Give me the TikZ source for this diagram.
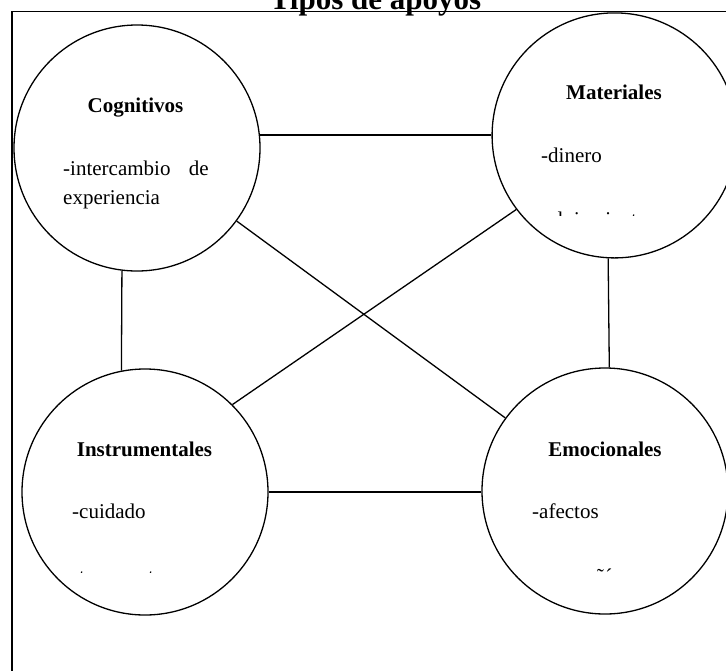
\documentclass[tikz,border=0pt]{standalone}
\usepackage{fontspec}
\setmainfont{Liberation Serif}
\tikzset{
  bubble/.style={draw, circle, line width=1.3pt, minimum size=246pt, inner sep=0pt},
  link/.style={line width=1.3pt},
  head/.style={font=\fontsize{21}{25}\selectfont\bfseries, inner sep=0pt, anchor=base},
  body/.style={font=\fontsize{21}{25}\selectfont, inner sep=0pt, anchor=base west},
}
\begin{document}
\begin{tikzpicture}[x=1pt,y=-1pt]
\useasboundingbox (0,0) rectangle (726,670);
\clip (0,0) rectangle (726,670);
\fill[white] (0,0) rectangle (726,670);
\draw[line width=1.3pt] (12,11.7) rectangle (760,700);
\node[font=\fontsize{31}{36}\selectfont\bfseries, anchor=base, inner sep=0pt] (title) at (375.5,9.5) {Tipos de apoyos};

\node[bubble] (C) at (137,148) {};
\node[bubble, minimum size=245pt] (M) at (614.6,135.4) {};
\node[bubble] (I) at (145,492) {};
\node[bubble] (E) at (605,491) {};

\node[head] (Ct) at (135.5,112) {Cognitivos};
\node[body] (C1) at (63,175.7) {-intercambio};
\node[body, anchor=base east] (C2) at (209,175.7) {de};
\node[body] (C3) at (63,204) {experiencia};

\node[head] (Mt) at (614,99.3) {Materiales};
\node[body] (M1) at (541,162.7) {-dinero};
\begin{scope}
  \clip (480,190) rectangle (720,215.8);
  \node[body] (M2) at (541,226.4) {-alojamiento};
\end{scope}

\node[head] (It) at (144.5,456) {Instrumentales};
\node[body] (I1) at (72,518.3) {-cuidado};
\begin{scope}
  \clip (20,550) rectangle (270,572.5);
  \node[body] (I2) at (72,583.2) {-transporte};
\end{scope}

\node[head] (Et) at (605,456) {Emocionales};
\node[body] (E1) at (532,518.3) {-afectos};
\begin{scope}
  \clip (480,550) rectangle (720,571.8);
  \node[body] (E2) at (532,583) {-compañía};
\end{scope}

\draw[link] (C.6.5) -- (C.6.5 -| M.west);
\draw[link] (C.263) -- (I.101);
\draw[link] (M.267.4) -- (E.88.1);
\draw[link] (I.east) -- (I.east -| E.west);
\draw[link] (C) -- (E);
\draw[link] (I.45.7) -- (M.217.4);
\end{tikzpicture}
\end{document}
